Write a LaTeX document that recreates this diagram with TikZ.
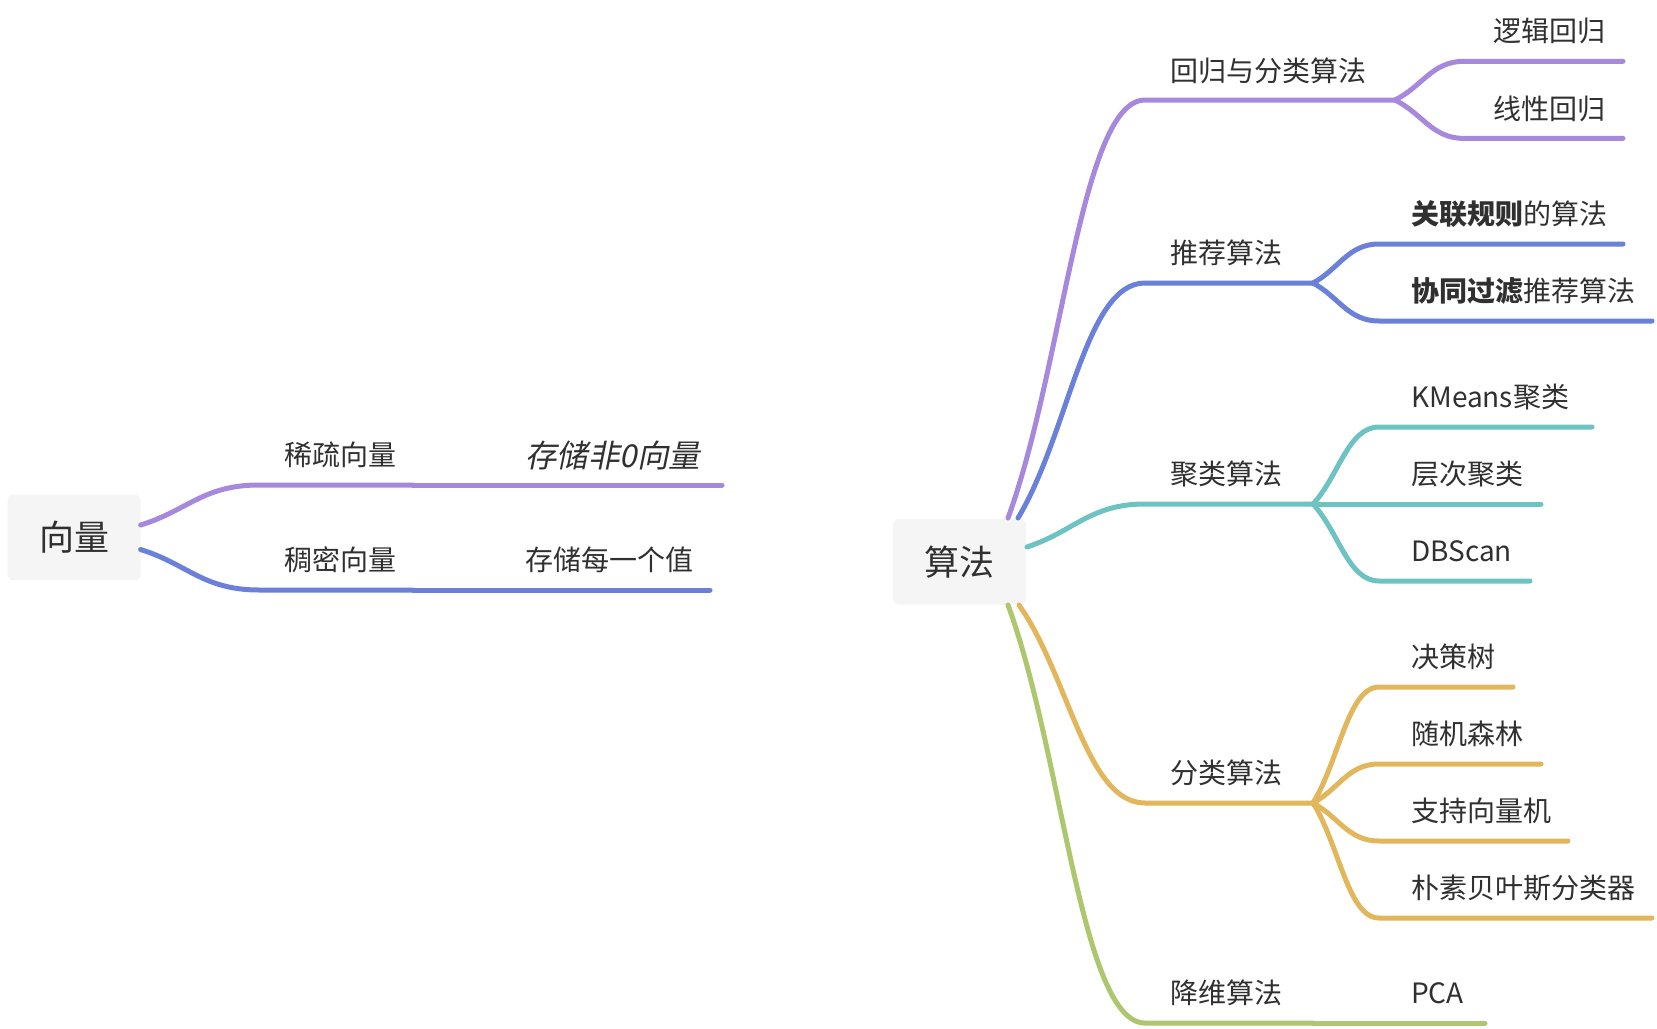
\documentclass[tikz,border=0pt]{standalone}
\usepackage{fontspec}
\setmainfont{Noto Sans CJK SC}
\newfontfamily\slfont{Noto Sans CJK SC}[FakeSlant=0.2]
\definecolor{cpur}{HTML}{A688DD}
\definecolor{cblu}{HTML}{6B81D9}
\definecolor{ctea}{HTML}{6CC3C2}
\definecolor{cgol}{HTML}{E2B65A}
\definecolor{cgrn}{HTML}{AEC76E}
\definecolor{boxfill}{HTML}{F5F5F5}
\definecolor{txt}{HTML}{303030}
\tikzset{
  lbl/.style={anchor=base west, inner sep=0pt, text=txt, font=\fontsize{28}{32}\selectfont},
  rootbox/.style={fill=boxfill, rounded corners=6pt, text=txt, inner sep=0pt,
    minimum width=133pt, minimum height=85.6pt, font=\fontsize{35}{40}\selectfont},
  br/.style={line width=5pt, line cap=round, line join=round},
}
\begin{document}
\begin{tikzpicture}[x=1pt,y=-1pt]
\useasboundingbox[fill=white] (0,0) rectangle (1657,1028);

% ---------- left map ----------
\node[rootbox] (vec) at (74,537.4) {向量};
\node[lbl] (sparse) at (284,465.6) {稀疏向量};
\node[lbl, font=\fontsize{31.5}{34}\slfont] (sparsec) at (525,467) {存储非0向量};
\node[lbl] (dense) at (284,570.6) {稠密向量};
\node[lbl] (densec) at (525,570.6) {存储每一个值};

\coordinate (vA) at (140.6,525);
\coordinate (vB) at (140.6,549.5);
\coordinate (sA) at (259,485);
\coordinate (sJ) at (413,485);
\coordinate (sE) at (722,485);
\coordinate (dA) at (259,590);
\coordinate (dJ) at (413,590);
\coordinate (dE) at (710,590);

\draw[br,cpur] (vA) .. controls +(47,-14.4) and +(-56,0) .. (sA) -- (sJ);
\draw[br,cpur] (sJ) -- (sE);
\draw[br,cblu] (vB) .. controls +(47,14.6) and +(-56,0) .. (dA) -- (dJ);
\draw[br,cblu] (dJ) -- (dE);

% ---------- right map ----------
\node[rootbox] (alg) at (959.5,561.8) {算法};

\node[lbl] (reg) at (1170,81) {回归与分类算法};
\node[lbl] (reg1) at (1493,41.9) {逻辑回归};
\node[lbl] (reg2) at (1493,119) {线性回归};
\node[lbl] (rec) at (1170,263.6) {推荐算法};
\node[lbl] (rec1) at (1411,224.6) {\textbf{关联规则}的算法};
\node[lbl] (rec2) at (1411,301.6) {\textbf{协同过滤}推荐算法};
\node[lbl] (clu) at (1170,484.6) {聚类算法};
\node[lbl] (clu1) at (1411,407.6) {KMeans聚类};
\node[lbl] (clu2) at (1411,484.6) {层次聚类};
\node[lbl] (clu3) at (1411,561.6) {DBScan};
\node[lbl] (cls) at (1170,783.6) {分类算法};
\node[lbl] (cls1) at (1411,667.6) {决策树};
\node[lbl] (cls2) at (1411,744.6) {随机森林};
\node[lbl] (cls3) at (1411,821.6) {支持向量机};
\node[lbl] (cls4) at (1411,898.6) {朴素贝叶斯分类器};
\node[lbl] (dim) at (1170,1003.6) {降维算法};
\node[lbl] (dim1) at (1411,1003.6) {PCA};

% start points on the root box
\coordinate (aP) at (1008,518);
\coordinate (aB) at (1018,518);
\coordinate (aT) at (1027,547);
\coordinate (aG) at (1019,605);
\coordinate (aN) at (1008,605);
% level-1 line starts and forks
\coordinate (regS) at (1145,100);   \coordinate (regF) at (1395,100);
\coordinate (recS) at (1145,283);   \coordinate (recF) at (1313,283);
\coordinate (cluS) at (1145,504);   \coordinate (cluF) at (1313,504);
\coordinate (clsS) at (1145,803);   \coordinate (clsF) at (1313,803);
\coordinate (dimS) at (1145,1023);  \coordinate (dimF) at (1313,1023);
% level-2 line starts and ends
\coordinate (reg1S) at (1464,61.3);  \coordinate (reg1E) at (1623,61.3);
\coordinate (reg2S) at (1464,138.4); \coordinate (reg2E) at (1623,138.4);
\coordinate (rec1S) at (1379,244);   \coordinate (rec1E) at (1623,244);
\coordinate (rec2S) at (1379,321);   \coordinate (rec2E) at (1652,321);
\coordinate (clu1S) at (1379,427);   \coordinate (clu1E) at (1592,427);
\coordinate (clu2E) at (1541,504);
\coordinate (clu3S) at (1379,581);   \coordinate (clu3E) at (1530,581);
\coordinate (cls1S) at (1379,687);   \coordinate (cls1E) at (1513,687);
\coordinate (cls2S) at (1379,764);   \coordinate (cls2E) at (1541,764);
\coordinate (cls3S) at (1379,841);   \coordinate (cls3E) at (1568,841);
\coordinate (cls4S) at (1379,918);   \coordinate (cls4E) at (1652,918);
\coordinate (dim1E) at (1485,1023);

% level 1
\draw[br,cpur] (aP) .. controls +(55,-150) and +(-64,0) .. (regS) -- (regF);
\draw[br,cblu] (aB) .. controls +(51,-85) and +(-60,0) .. (recS) -- (recF);
\draw[br,ctea] (aT) .. controls +(47,-15.5) and +(-55,0) .. (cluS) -- (cluF);
\draw[br,cgol] (aG) .. controls +(50,71) and +(-59,0) .. (clsS) -- (clsF);
\draw[br,cgrn] (aN) .. controls +(55,150) and +(-64,0) .. (dimS) -- (dimF);

% level 2
\draw[br,cpur] (regF) .. controls +(28,-14) and +(-32,0) .. (reg1S) -- (reg1E);
\draw[br,cpur] (regF) .. controls +(28,14) and +(-32,0) .. (reg2S) -- (reg2E);
\draw[br,cblu] (recF) .. controls +(26,-14) and +(-31,0) .. (rec1S) -- (rec1E);
\draw[br,cblu] (recF) .. controls +(26,14) and +(-31,0) .. (rec2S) -- (rec2E);
\draw[br,ctea] (cluF) .. controls +(26,-28) and +(-31,0) .. (clu1S) -- (clu1E);
\draw[br,ctea] (cluF) -- (clu2E);
\draw[br,ctea] (cluF) .. controls +(26,28) and +(-31,0) .. (clu3S) -- (clu3E);
\draw[br,cgol] (clsF) .. controls +(26,-42) and +(-31,0) .. (cls1S) -- (cls1E);
\draw[br,cgol] (clsF) .. controls +(26,-14) and +(-31,0) .. (cls2S) -- (cls2E);
\draw[br,cgol] (clsF) .. controls +(26,14) and +(-31,0) .. (cls3S) -- (cls3E);
\draw[br,cgol] (clsF) .. controls +(26,41) and +(-31,0) .. (cls4S) -- (cls4E);
\draw[br,cgrn] (dimF) -- (dim1E);
\end{tikzpicture}
\end{document}
